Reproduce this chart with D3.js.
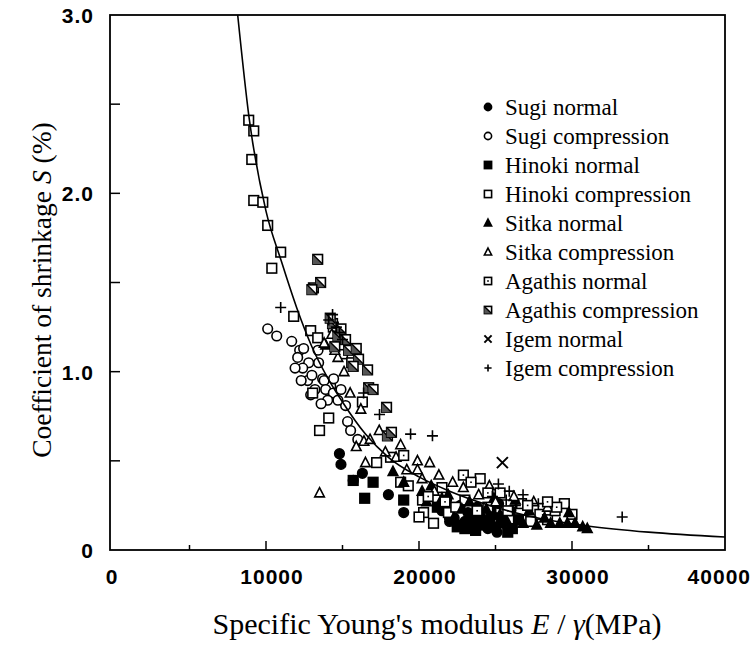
<!DOCTYPE html>
<html>
<head>
<meta charset="utf-8">
<script src="https://cdn.jsdelivr.net/npm/d3@7.9.0/dist/d3.min.js"></script>
<style>
  body { margin: 0; background: #fff; }
  svg { display: block; }
  .tick-label { font-family: "Liberation Sans", Arial, sans-serif; font-weight: bold; font-size: 21px; letter-spacing: 1px; }
  .title { font-family: "Liberation Serif", "Times New Roman", serif; }
  .legend text { font-family: "Liberation Serif", "Times New Roman", serif; font-size: 23px; }
</style>
</head>
<body>
<svg id="chart" width="752" height="646"></svg>
<script>
// x = specific Young's modulus (MPa), y = coefficient of shrinkage (%)
const xTicks = [0, 10000, 20000, 30000, 40000];
const yTicks = [0, 1, 2, 3];
const yTickLabels = ['0', '1.0', '2.0', '3.0'];

// fitted curve
const curveE = [8150, 8900, 10000, 11000, 12000, 13000, 14000, 15000, 16500, 18000, 20000, 22000, 25000, 28000, 31000, 35000, 40000];
const curveS = [3.0, 2.42, 1.90, 1.62, 1.36, 1.14, 0.97, 0.83, 0.65, 0.52, 0.41, 0.33, 0.24, 0.175, 0.135, 0.10, 0.073];

const sugiNormal = [[14800,0.54],[14900,0.48],[16300,0.43],[15700,0.39],[19000,0.21],[18000,0.31],[21500,0.22],[22300,0.18],[23000,0.16],[23500,0.14],[24000,0.17],[24500,0.12],[23200,0.21],[22700,0.25],[24800,0.19],[25500,0.15],[26000,0.22],[25200,0.26],[21800,0.28],[23800,0.24],[22600,0.14],[23600,0.19],[24300,0.16],[25100,0.10],[22000,0.16]];
const sugiCompression = [[10110,1.24],[10700,1.20],[11680,1.17],[12200,1.12],[12070,1.08],[12790,1.05],[12400,1.02],[12720,0.95],[13440,1.05],[13700,0.96],[14230,0.92],[12920,0.87],[13200,0.90],[12460,1.13],[13000,0.98],[13800,0.95],[14420,0.96],[13900,0.90],[14400,0.88],[14030,0.84],[15200,0.81],[15330,0.72],[15530,0.67],[13400,1.12],[11900,1.02],[12300,0.95],[14700,0.84],[13600,0.82],[16000,0.62],[14900,0.90]];
const hinokiNormal = [[15700,0.39],[17000,0.38],[16450,0.29],[19000,0.28],[25800,0.10],[22000,0.20],[23400,0.18],[24200,0.14],[24700,0.21],[22500,0.13],[26500,0.17],[25000,0.13],[23700,0.11],[21200,0.24],[23000,0.12],[24600,0.16],[25400,0.18],[26100,0.12]];
const hinokiCompression = [[8870,2.41],[9200,2.35],[9070,2.19],[9200,1.96],[9790,1.95],[10110,1.82],[10960,1.67],[10380,1.58],[11810,1.31],[12920,1.23],[13380,1.19],[14100,0.74],[13500,0.67],[13050,0.88],[17230,0.49],[18140,0.52],[18800,0.38],[20230,0.28],[20300,0.21],[20000,0.185],[20950,0.15],[21920,0.21],[19300,0.36],[23000,0.28],[24500,0.24],[25300,0.32],[26700,0.26],[27900,0.20],[28400,0.17],[30000,0.20],[22400,0.24],[21500,0.35],[16300,0.83],[15000,1.10],[14900,1.15],[15600,1.05],[14400,1.25],[28900,0.22],[27300,0.16],[24000,0.40],[29500,0.26]];
const sitkaNormal = [[18300,0.44],[19000,0.38],[21900,0.31],[20200,0.33],[30700,0.13],[29800,0.21],[29200,0.15],[28600,0.15],[29700,0.15],[30200,0.15],[31000,0.12],[20800,0.36],[21500,0.29],[22800,0.23],[23300,0.27],[24400,0.23],[25300,0.20],[26300,0.28],[27200,0.22],[26800,0.15],[28200,0.18],[24900,0.29],[22200,0.17],[20500,0.27],[23700,0.16],[24100,0.20],[25700,0.17],[27700,0.14]];
const sitkaCompression = [[13900,1.15],[13800,1.16],[14700,1.08],[14300,1.21],[15500,0.88],[16200,0.79],[17400,0.67],[15900,0.58],[16400,0.61],[16500,0.49],[13500,0.32],[18800,0.59],[19900,0.50],[20700,0.49],[19900,0.45],[22200,0.38],[28400,0.24],[17800,0.55],[19200,0.45],[20200,0.40],[21300,0.42],[22900,0.35],[23900,0.31],[25000,0.27],[26200,0.30],[27500,0.27],[21000,0.33],[24600,0.36],[18500,0.52],[14500,1.12],[15100,1.00],[16800,0.62]];
const agathisNormal = [[19000,0.53],[22900,0.42],[23400,0.38],[24500,0.32],[27100,0.25],[29000,0.24],[21700,0.27],[25800,0.22],[28400,0.27],[20600,0.30],[23800,0.22]];
const agathisCompression = [[13380,1.63],[13100,1.47],[13570,1.50],[13000,1.46],[14350,1.27],[14700,1.20],[15400,1.12],[16050,1.07],[16640,1.01],[16710,0.91],[17880,0.80],[17940,0.64],[14900,1.24],[15200,1.18],[14200,1.30],[15700,1.03],[18200,0.66],[17000,0.90],[14500,1.14],[15900,1.13]];
const igemNormal = [[25450,0.49]];
const igemCompression = [[10960,1.36],[14350,1.32],[14100,1.29],[14600,1.25],[16380,0.88],[17420,0.76],[19450,0.65],[20880,0.64],[25190,0.37],[27800,0.26],[33280,0.185],[25700,0.28],[26300,0.25],[24800,0.30],[26800,0.31],[25900,0.33],[14800,1.22],[15000,1.18]];

const seriesNames = ['Sugi normal', 'Sugi compression', 'Hinoki normal', 'Hinoki compression', 'Sitka normal', 'Sitka compression', 'Agathis normal', 'Agathis compression', 'Igem normal', 'Igem compression'];
const seriesData = [sugiNormal, sugiCompression, hinokiNormal, hinokiCompression, sitkaNormal, sitkaCompression, agathisNormal, agathisCompression, igemNormal, igemCompression];
const seriesMarks = ['circleFill', 'circle', 'squareFill', 'square', 'triFill', 'tri', 'squareDot', 'squareHatch', 'cross', 'plus'];

const svg = d3.select('#chart');
const plotL = 110, plotR = 725, plotT = 15, plotB = 550;

const x = d3.scaleLinear().domain([0, 40000]).range([113, plotR]);
const y = d3.scaleLinear().domain([0, 3]).range([plotB, plotT]);

// draw a marker of given kind with size s (half-width) at g
function drawMark(g, kind, s) {
  const sw = 1.6;
  if (kind === 'circle' || kind === 'circleFill') {
    g.append('circle').attr('r', s)
      .attr('fill', kind === 'circleFill' ? '#000' : '#fff')
      .attr('stroke', '#000').attr('stroke-width', sw);
  } else if (kind.startsWith('square')) {
    g.append('rect').attr('x', -s).attr('y', -s).attr('width', 2 * s).attr('height', 2 * s)
      .attr('fill', kind === 'squareFill' ? '#000' : '#fff')
      .attr('stroke', '#000').attr('stroke-width', sw);
    if (kind === 'squareDot') {
      g.append('rect').attr('x', -0.8).attr('y', -0.8).attr('width', 1.6).attr('height', 1.6).attr('fill', '#000');
    }
    if (kind === 'squareHatch') {
      g.append('path').attr('d', `M${-s},${-s}L${s},${s}L${-s},${s}Z`).attr('fill', '#555');
      g.append('path').attr('d', `M${-s},${-s}L${s},${s}`).attr('stroke', '#000').attr('stroke-width', 1.4);
    }
  } else if (kind === 'tri' || kind === 'triFill') {
    const h = s * 1.1;
    g.append('path').attr('d', `M0,${-h}L${s},${h * 0.75}L${-s},${h * 0.75}Z`)
      .attr('fill', kind === 'triFill' ? '#000' : '#fff')
      .attr('stroke', '#000').attr('stroke-width', sw).attr('stroke-linejoin', 'miter');
  } else if (kind === 'cross') {
    g.append('path').attr('d', `M${-s},${-s}L${s},${s}M${-s},${s}L${s},${-s}`)
      .attr('stroke', '#000').attr('stroke-width', 2);
  } else if (kind === 'plus') {
    g.append('path').attr('d', `M${-s},0L${s},0M0,${-s}L0,${s}`)
      .attr('stroke', '#000').attr('stroke-width', 1.6);
  }
}

// points
const pts = svg.append('g');
seriesData.forEach((data, i) => {
  data.forEach(([e, s]) => {
    const g = pts.append('g').attr('transform', `translate(${x(e)},${y(s)})`);
    const size = seriesMarks[i] === 'cross' || seriesMarks[i] === 'plus' ? 5.5 : 4.8;
    drawMark(g, seriesMarks[i], size);
  });
});

// fitted curve
const line = d3.line().x(d => x(d[0])).y(d => y(d[1])).curve(d3.curveMonotoneX);
svg.append('path')
  .datum(curveE.map((e, i) => [e, curveS[i]]))
  .attr('d', line).attr('fill', 'none').attr('stroke', '#000').attr('stroke-width', 1.6);

// frame
svg.append('rect').attr('x', plotL).attr('y', plotT).attr('width', plotR - plotL).attr('height', plotB - plotT)
  .attr('fill', 'none').attr('stroke', '#000').attr('stroke-width', 1.8);

// x axis ticks (inward)
const xAxis = svg.append('g');
d3.range(5000, 40000, 5000).forEach(v => {
  const len = v % 10000 === 0 ? 9 : 5;
  xAxis.append('line').attr('x1', x(v)).attr('x2', x(v)).attr('y1', plotB).attr('y2', plotB - len)
    .attr('stroke', '#000').attr('stroke-width', 1.5);
});
xTicks.forEach(v => {
  const t = xAxis.append('text').attr('class', 'tick-label').attr('y', 584).text(v);
  if (v === 40000) t.attr('x', 751).attr('text-anchor', 'end');
  else t.attr('x', v === 0 ? 112 : x(v) + 6).attr('text-anchor', 'middle');
});

// y axis ticks (inward)
const yAxis = svg.append('g');
d3.range(0.5, 3, 0.5).forEach(v => {
  yAxis.append('line').attr('x1', plotL).attr('x2', plotL + 10).attr('y1', y(v)).attr('y2', y(v))
    .attr('stroke', '#000').attr('stroke-width', 1.5);
});
yTicks.forEach((v, i) => {
  yAxis.append('text').attr('class', 'tick-label').attr('x', 94).attr('y', y(v) + 8)
    .attr('text-anchor', 'end').text(yTickLabels[i]);
});

// axis titles
const xt = svg.append('text').attr('class', 'title').attr('font-size', 30)
  .attr('x', 437).attr('y', 634).attr('text-anchor', 'middle');
xt.append('tspan').text("Specific Young's modulus ");
xt.append('tspan').attr('font-style', 'italic').text('E');
xt.append('tspan').text(' / ');
xt.append('tspan').attr('font-style', 'italic').text('γ');
xt.append('tspan').text('(MPa)');

const yt = svg.append('text').attr('class', 'title').attr('font-size', 27.5)
  .attr('transform', 'translate(51,290) rotate(-90)').attr('text-anchor', 'middle');
yt.append('tspan').text('Coefficient of shrinkage ');
yt.append('tspan').attr('font-style', 'italic').text('S');
yt.append('tspan').text(' (%)');

// legend
const legend = svg.append('g').attr('class', 'legend');
seriesNames.forEach((name, i) => {
  const ly = 107 + i * 29;
  const g = legend.append('g').attr('transform', `translate(488,${ly})`);
  drawMark(g, seriesMarks[i], 3.6);
  legend.append('text').attr('x', 505).attr('y', ly + 8).text(name);
});
</script>
</body>
</html>
